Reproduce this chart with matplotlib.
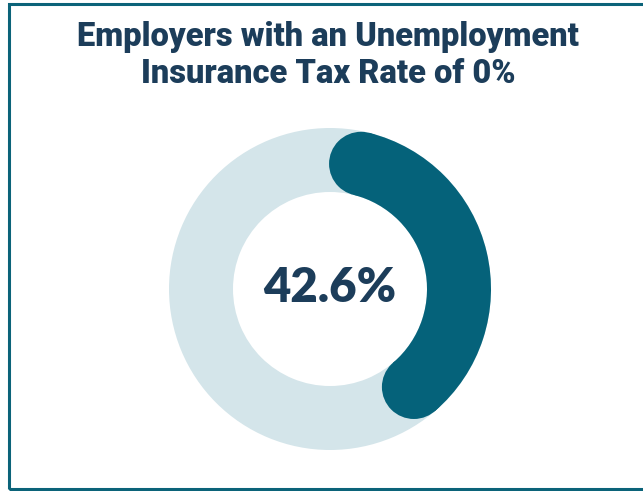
import numpy as np
import matplotlib.pyplot as plt
from matplotlib.patches import Wedge, Circle, Rectangle

# data
title_lines = ["Employers with an Unemployment", "Insurance Tax Rate of 0%"]
share_pct = 42.6

W, H = 643, 491
fig = plt.figure(figsize=(W / 100, H / 100), dpi=100)
fig.patch.set_facecolor("white")

# axes in pixel units (y up)
ax = fig.add_axes([0, 0, 1, 1])
ax.set_xlim(0, W)
ax.set_ylim(0, H)
ax.set_aspect("equal")
ax.axis("off")

# frame, right side runs off the picture
ax.add_patch(Rectangle((8.5, 2.5), W + 20, H - 6.5, fill=False,
                       edgecolor="#0b6379", linewidth=2.2))

# donut geometry
cx, cy = 330, H - 289
r_out, ring_w = 161, 64
r_mid = r_out - ring_w / 2

ax.add_patch(Wedge((cx, cy), r_out, 0, 360, width=ring_w,
                   facecolor="#d4e5ea", edgecolor="none"))

# value arc, clockwise from 12 o'clock, with round ends kept inside the span
span = share_pct / 100 * 360
cap = np.degrees(np.arctan((ring_w / 2) / r_mid))
a_start = 90 - cap
a_end = 90 - (span - cap)
ax.add_patch(Wedge((cx, cy), r_out, a_end, a_start, width=ring_w,
                   facecolor="#05627a", edgecolor="none"))
for a in (a_start, a_end):
    ax.add_patch(Circle((cx + r_mid * np.cos(np.radians(a)),
                         cy + r_mid * np.sin(np.radians(a))),
                        ring_w / 2, facecolor="#05627a", edgecolor="none"))

ax.text(cx, cy + 1, f"{share_pct:.1f}%", ha="center", va="center",
        fontsize=34, fontweight="heavy", family="Lato", color="#1c3d5a")

# title
for i, line in enumerate(title_lines):
    ax.text(328, H - 37 - i * 37, line, ha="center", va="center",
            fontsize=23.5, fontweight="black", family="Roboto", color="#1c3d5a")

fig.savefig("out.png", dpi=100)
